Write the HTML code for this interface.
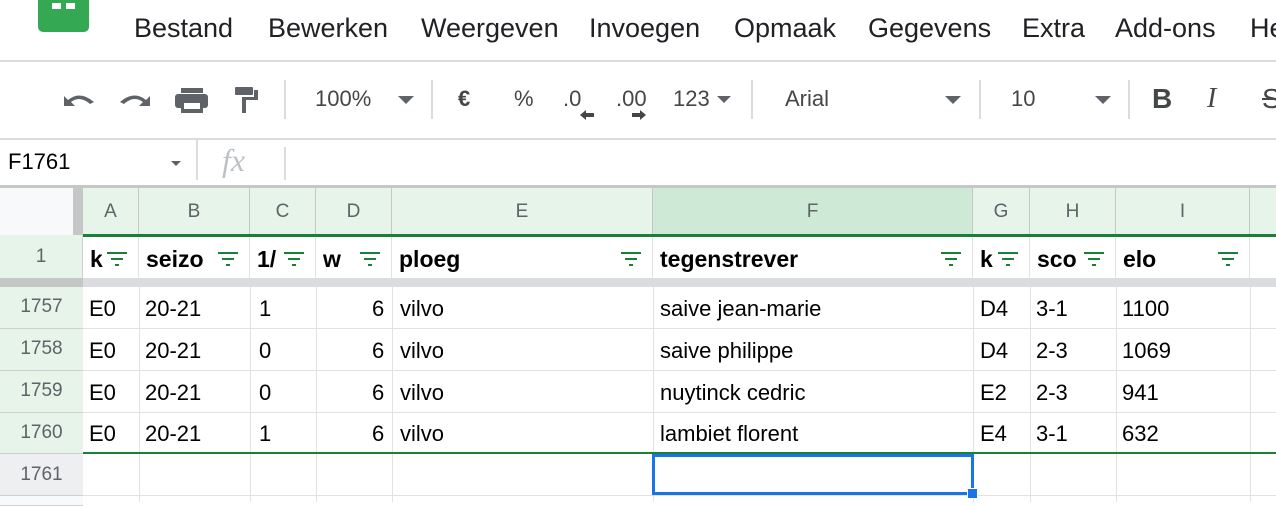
<!DOCTYPE html>
<html><head><meta charset="utf-8"><style>
*{margin:0;padding:0;box-sizing:border-box}
body{width:1276px;height:502px;overflow:hidden;background:#fff;font-family:"Liberation Sans",Arial,sans-serif;position:relative}
.a{position:absolute;white-space:nowrap}
.m{font-size:27px;color:#202124;top:13px}
.t{font-size:22px;color:#444746;top:86px}
.dv{position:absolute;width:2px;background:#dadce0}
.ch{position:absolute;top:188px;height:47px;font-size:19px;color:#5f6368;text-align:center;line-height:47px;border-right:1px solid #c4c7c5;background:#e6f4ea}
.h1{position:absolute;top:237px;height:41px;font-size:23px;font-weight:bold;color:#000;line-height:44px;border-right:1px solid #e2e2e2;overflow:hidden;padding-left:7px}
.fl{position:absolute;right:10px;top:15px;width:22px;height:14px;background:#fff;box-shadow:-4px 0 0 #fff}
.fl i{position:absolute;height:2px;background:#188038;left:50%}
.rh{position:absolute;left:0;width:83px;font-size:19px;color:#5f6368;text-align:center;border-bottom:1px solid #d0d0d0}
.c{position:absolute;font-size:22px;color:#000;line-height:42px}
.vl{position:absolute;width:1px;background:#e2e2e2;top:287px;height:215px}
.hl{position:absolute;left:83px;right:0;height:1px;background:#e2e2e2}
</style></head><body>
<div class="a" style="left:38px;top:0;width:51px;height:32px;background:#34a853;border-radius:0 0 5px 5px"></div>
<div class="a" style="left:52px;top:3px;width:9px;height:6px;background:#fff"></div>
<div class="a" style="left:66px;top:3px;width:9px;height:6px;background:#fff"></div>
<div class="a m" style="left:134px">Bestand</div>
<div class="a m" style="left:268px">Bewerken</div>
<div class="a m" style="left:421px">Weergeven</div>
<div class="a m" style="left:589px">Invoegen</div>
<div class="a m" style="left:734px">Opmaak</div>
<div class="a m" style="left:868px">Gegevens</div>
<div class="a m" style="left:1022px">Extra</div>
<div class="a m" style="left:1115px">Add-ons</div>
<div class="a m" style="left:1250px">He</div>
<div class="a" style="left:0;top:60px;width:1276px;height:2px;background:#dadce0"></div>
<svg class="a" style="left:60px;top:84px" width="220" height="32" viewBox="0 0 220 32">
<path d="M4 22 L4 12 L8 16 Q20 6 34 18 L30 20 Q20 11 11 18 L15 22 Z" fill="#5f6368"/>
<path d="M90 22 L90 12 L86 16 Q74 6 60 18 L64 20 Q74 11 83 18 L79 22 Z" fill="#5f6368"/>
<rect x="121" y="4" width="22" height="5" fill="#5f6368"/><rect x="115" y="10" width="33" height="14" rx="3" fill="#5f6368"/><rect x="121" y="19" width="22" height="10" fill="#5f6368"/><rect x="124" y="19" width="16" height="6" fill="#fff"/>
<rect x="175" y="3" width="18" height="8" rx="1" fill="#5f6368"/><path d="M193 6 h5 v10 h-12 v13 h-4 v-16 h12 v-7" fill="#5f6368"/>
</svg>
<div class="dv" style="left:284px;top:80px;height:39px"></div>
<div class="a t" style="left:315px">100%</div>
<div class="a" style="left:398px;top:96px;border:8px solid transparent;border-top:8px solid #5f6368;border-bottom:0"></div>
<div class="dv" style="left:431px;top:80px;height:39px"></div>
<div class="a t" style="left:458px;font-weight:bold">€</div>
<div class="a t" style="left:514px">%</div>
<div class="a t" style="left:563px">.0</div>
<svg class="a" style="left:578px;top:109px" width="70" height="12"><path d="M2 6 L8 1 L8 4 L16 4 L16 8 L8 8 L8 11 Z" fill="#444746"/><path d="M68 6 L62 1 L62 4 L54 4 L54 8 L62 8 L62 11 Z" fill="#444746"/></svg>
<div class="a t" style="left:616px">.00</div>
<div class="a t" style="left:673px">123</div>
<div class="a" style="left:717px;top:96px;border:7px solid transparent;border-top:7px solid #5f6368;border-bottom:0"></div>
<div class="dv" style="left:751px;top:80px;height:39px"></div>
<div class="a t" style="left:785px">Arial</div>
<div class="a" style="left:945px;top:96px;border:8px solid transparent;border-top:8px solid #5f6368;border-bottom:0"></div>
<div class="dv" style="left:979px;top:80px;height:39px"></div>
<div class="a t" style="left:1011px">10</div>
<div class="a" style="left:1095px;top:96px;border:8px solid transparent;border-top:8px solid #5f6368;border-bottom:0"></div>
<div class="dv" style="left:1128px;top:80px;height:39px"></div>
<div class="a t" style="left:1152px;font-size:28px;font-weight:bold;top:83px">B</div>
<div class="a t" style="left:1207px;font-size:28px;font-style:italic;font-family:'Liberation Serif',serif;top:83px">I</div>
<div class="a t" style="left:1262px;font-size:28px;top:83px;text-decoration:line-through">S</div>
<div class="a" style="left:0;top:138px;width:1276px;height:2px;background:#dadce0"></div>
<div class="a" style="left:8px;top:149px;font-size:22px;color:#000">F1761</div>
<div class="a" style="left:171px;top:161px;border:5px solid transparent;border-top:5px solid #5f6368;border-bottom:0"></div>
<div class="dv" style="left:196px;top:140px;height:40px"></div>
<div class="a" style="left:222px;top:142px;font-size:32px;font-style:italic;color:#bdc1c6;font-family:'Liberation Serif',serif">fx</div>
<div class="dv" style="left:284px;top:147px;height:33px"></div>
<div class="a" style="left:0;top:185px;width:1276px;height:3px;background:#c4c7c5"></div>
<div class="a" style="left:0;top:188px;width:73px;height:47px;background:#f8f9fa"></div>
<div class="a" style="left:73px;top:188px;width:10px;height:47px;background:#c4c7c5"></div>
<div class="ch" style="left:83px;width:56px">A</div>
<div class="ch" style="left:139px;width:111px">B</div>
<div class="ch" style="left:250px;width:66px">C</div>
<div class="ch" style="left:316px;width:76px">D</div>
<div class="ch" style="left:392px;width:261px">E</div>
<div class="ch" style="left:653px;width:320px;background:#ceead6">F</div>
<div class="ch" style="left:973px;width:57px">G</div>
<div class="ch" style="left:1030px;width:86px">H</div>
<div class="ch" style="left:1116px;width:134px">I</div>
<div class="ch" style="left:1250px;width:30px"></div>
<div class="a" style="left:83px;top:234px;width:1193px;height:3px;background:#188038"></div>
<div class="a" style="left:0;top:235px;width:83px;height:43px;background:#e6f4ea;font-size:19px;color:#5f6368;text-align:center;line-height:43px;border-right:1px solid #d0d0d0">1</div>
<div class="h1" style="left:83px;width:56px">k<div class="fl"><i style="width:20px;margin-left:-10px;top:0"></i><i style="width:12px;margin-left:-6px;top:6px"></i><i style="width:4px;margin-left:-2px;top:12px"></i></div></div>
<div class="h1" style="left:139px;width:111px">seizo<div class="fl"><i style="width:20px;margin-left:-10px;top:0"></i><i style="width:12px;margin-left:-6px;top:6px"></i><i style="width:4px;margin-left:-2px;top:12px"></i></div></div>
<div class="h1" style="left:250px;width:66px">1/<div class="fl"><i style="width:20px;margin-left:-10px;top:0"></i><i style="width:12px;margin-left:-6px;top:6px"></i><i style="width:4px;margin-left:-2px;top:12px"></i></div></div>
<div class="h1" style="left:316px;width:76px">w<div class="fl"><i style="width:20px;margin-left:-10px;top:0"></i><i style="width:12px;margin-left:-6px;top:6px"></i><i style="width:4px;margin-left:-2px;top:12px"></i></div></div>
<div class="h1" style="left:392px;width:261px">ploeg<div class="fl"><i style="width:20px;margin-left:-10px;top:0"></i><i style="width:12px;margin-left:-6px;top:6px"></i><i style="width:4px;margin-left:-2px;top:12px"></i></div></div>
<div class="h1" style="left:653px;width:320px">tegenstrever<div class="fl"><i style="width:20px;margin-left:-10px;top:0"></i><i style="width:12px;margin-left:-6px;top:6px"></i><i style="width:4px;margin-left:-2px;top:12px"></i></div></div>
<div class="h1" style="left:973px;width:57px">k<div class="fl"><i style="width:20px;margin-left:-10px;top:0"></i><i style="width:12px;margin-left:-6px;top:6px"></i><i style="width:4px;margin-left:-2px;top:12px"></i></div></div>
<div class="h1" style="left:1030px;width:86px">sco<div class="fl"><i style="width:20px;margin-left:-10px;top:0"></i><i style="width:12px;margin-left:-6px;top:6px"></i><i style="width:4px;margin-left:-2px;top:12px"></i></div></div>
<div class="h1" style="left:1116px;width:134px">elo<div class="fl"><i style="width:20px;margin-left:-10px;top:0"></i><i style="width:12px;margin-left:-6px;top:6px"></i><i style="width:4px;margin-left:-2px;top:12px"></i></div></div>
<div class="a" style="left:0;top:278px;width:83px;height:9px;background:#c4c7c5"></div>
<div class="a" style="left:83px;top:278px;width:1193px;height:9px;background:#dadce0"></div>
<div class="rh" style="top:287px;height:42px;line-height:40px;background:#e6f4ea">1757</div>
<div class="rh" style="top:329px;height:42px;line-height:40px;background:#e6f4ea">1758</div>
<div class="rh" style="top:371px;height:42px;line-height:40px;background:#e6f4ea">1759</div>
<div class="rh" style="top:413px;height:41px;line-height:40px;background:#e6f4ea">1760</div>
<div class="rh" style="top:454px;height:42px;line-height:42px;background:#eeeff1">1761</div>
<div class="rh" style="top:496px;height:10px;background:#f8f9fa"></div>
<div class="vl" style="left:139px"></div><div class="vl" style="left:250px"></div><div class="vl" style="left:316px"></div><div class="vl" style="left:392px"></div><div class="vl" style="left:653px"></div><div class="vl" style="left:973px"></div><div class="vl" style="left:1030px"></div><div class="vl" style="left:1116px"></div><div class="vl" style="left:1250px"></div>
<div class="hl" style="top:328px"></div><div class="hl" style="top:370px"></div><div class="hl" style="top:412px"></div><div class="hl" style="top:495px"></div>
<div class="a" style="left:83px;top:452px;width:1193px;height:2px;background:#188038"></div>
<div class="c" style="left:89px;top:288px">E0</div><div class="c" style="left:145px;top:288px">20-21</div><div class="c" style="left:259px;top:288px">1</div><div class="c" style="left:372px;top:288px">6</div><div class="c" style="left:400px;top:288px">vilvo</div><div class="c" style="left:660px;top:288px">saive jean-marie</div><div class="c" style="left:980px;top:288px">D4</div><div class="c" style="left:1036px;top:288px">3-1</div><div class="c" style="left:1122px;top:288px">1100</div>
<div class="c" style="left:89px;top:330px">E0</div><div class="c" style="left:145px;top:330px">20-21</div><div class="c" style="left:259px;top:330px">0</div><div class="c" style="left:372px;top:330px">6</div><div class="c" style="left:400px;top:330px">vilvo</div><div class="c" style="left:660px;top:330px">saive philippe</div><div class="c" style="left:980px;top:330px">D4</div><div class="c" style="left:1036px;top:330px">2-3</div><div class="c" style="left:1122px;top:330px">1069</div>
<div class="c" style="left:89px;top:372px">E0</div><div class="c" style="left:145px;top:372px">20-21</div><div class="c" style="left:259px;top:372px">0</div><div class="c" style="left:372px;top:372px">6</div><div class="c" style="left:400px;top:372px">vilvo</div><div class="c" style="left:660px;top:372px">nuytinck cedric</div><div class="c" style="left:980px;top:372px">E2</div><div class="c" style="left:1036px;top:372px">2-3</div><div class="c" style="left:1122px;top:372px">941</div>
<div class="c" style="left:89px;top:413px">E0</div><div class="c" style="left:145px;top:413px">20-21</div><div class="c" style="left:259px;top:413px">1</div><div class="c" style="left:372px;top:413px">6</div><div class="c" style="left:400px;top:413px">vilvo</div><div class="c" style="left:660px;top:413px">lambiet florent</div><div class="c" style="left:980px;top:413px">E4</div><div class="c" style="left:1036px;top:413px">3-1</div><div class="c" style="left:1122px;top:413px">632</div>
<div class="a" style="left:652px;top:454px;width:322px;height:41px;border:3px solid #1a73e8"></div>
<div class="a" style="left:967px;top:488px;width:11px;height:11px;background:#1a73e8;border:1px solid #fff"></div>
</body></html>
